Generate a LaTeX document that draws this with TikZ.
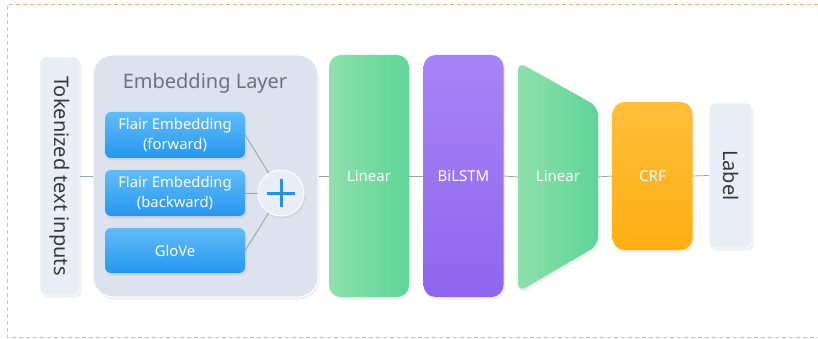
\documentclass[tikz,border=0pt]{standalone}
\usepackage{fontspec}
\setmainfont{Noto Sans}
\usetikzlibrary{shadows}
\definecolor{frameor}{HTML}{F0B888}
\definecolor{paleblue}{HTML}{E9EDF5}
\definecolor{embbg}{HTML}{DCE2EE}
\definecolor{bluetop}{HTML}{62BDF7}
\definecolor{bluebot}{HTML}{2596F0}
\definecolor{greentop}{HTML}{8EE0AC}
\definecolor{greenbot}{HTML}{5ED597}
\definecolor{purptop}{HTML}{A784F6}
\definecolor{purpbot}{HTML}{8E66EE}
\definecolor{orangetop}{HTML}{FFBE3A}
\definecolor{orangebot}{HTML}{FFAF12}
\definecolor{linkgray}{HTML}{9AA0A8}
\definecolor{titlegray}{HTML}{6C7380}
\definecolor{darktext}{HTML}{333840}
\definecolor{plusblue}{HTML}{2A8FE8}
\tikzset{
  soft/.style={drop shadow={opacity=0.12, shadow xshift=1.5pt, shadow yshift=-2.5pt}},
  iobox/.style={soft, draw=white, line width=0.8pt, fill=paleblue, rounded corners=6pt,
    inner sep=0pt, text=darktext, font=\fontsize{20}{24}\selectfont, rotate=-90},
  embbox/.style={soft, draw=white, line width=1pt, fill=embbg, rounded corners=20pt, inner sep=0pt},
  bluebox/.style={soft, top color=bluetop, bottom color=bluebot, rounded corners=6pt,
    minimum width=140pt, inner sep=0pt, text=white, align=center,
    font=\fontsize{14.8}{20}\selectfont},
  colbox/.style={soft, rounded corners=12pt, minimum width=80pt, inner sep=0pt,
    text=white, font=\fontsize{15}{18}\selectfont},
  link/.style={draw=linkgray, line width=0.8pt},
}
\begin{document}
\begin{tikzpicture}[x=1pt, y=-1pt]
\useasboundingbox (0,0) rectangle (818,339);
\fill[white] (0,0) rectangle (818,339);
% dashed outer frame (open on the right)
\draw[frameor, line width=1pt, dash pattern=on 4pt off 3pt]
  (818,5) -- (7,5) -- (7,337) -- (818,337);

% input column
\node[iobox, minimum width=238pt, minimum height=40pt] (tok) at (60,176) {Tokenized text inputs};

% embedding layer
\node[embbox, minimum width=225pt, minimum height=242pt] (emb) at (205.5,176) {};
\node[text=titlegray, font=\fontsize{20}{24}\selectfont] (embtitle) at (205,83) {Embedding Layer};
\node[bluebox, minimum height=46pt] (fwd) at (175,135) {Flair Embedding\\(forward)};
\node[bluebox, minimum height=46pt] (bwd) at (175,193) {Flair Embedding\\(backward)};
\node[bluebox, minimum height=45pt] (glove) at (175,250.5) {GloVe};
\node[circle, minimum size=46pt, inner sep=0pt, fill=paleblue, draw=white, line width=1pt, soft] (plus) at (281,193) {};
\draw[plusblue, line width=3pt] ([xshift=-14pt]plus.center) -- ([xshift=14pt]plus.center)
  ([yshift=-14pt]plus.center) -- ([yshift=14pt]plus.center);
\draw[link] (fwd.east) -- (plus);
\draw[link] (bwd.east) -- (plus);
\draw[link] (glove.east) -- (plus);

% processing columns
\node[colbox, minimum height=242pt, left color=greentop, right color=greenbot] (lin1) at (369,176) {Linear};
\node[colbox, minimum height=242pt, top color=purptop, bottom color=purpbot] (bilstm) at (463.5,176) {BiLSTM};

% tapered linear layer
\node[minimum width=80pt, minimum height=230pt, inner sep=0pt] (lin2) at (558,177) {};
\shade[left color=greentop, right color=greenbot, rounded corners=9pt, soft]
  (lin2.north west) -- ([yshift=-45pt]lin2.north east) -- ([yshift=47pt]lin2.south east)
  -- (lin2.south west) -- cycle;
\node[text=white, font=\fontsize{15}{18}\selectfont] (lin2text) at (558,176) {Linear};

\node[colbox, minimum height=148pt, top color=orangetop, bottom color=orangebot] (crf) at (652.5,176) {CRF};
\node[iobox, minimum width=145pt, minimum height=43pt] (lab) at (730.5,175.5) {Label};

% connectors
\draw[link] (tok.north) -- (emb.west);
\draw[link] (emb.east) -- (lin1.west);
\draw[link] (lin1.east) -- (bilstm.west);
\draw[link] (bilstm.east) -- (lin2.west);
\draw[link] (lin2.east) -- (crf.west);
\draw[link] (crf.east) -- (lab.south);
\end{tikzpicture}
\end{document}
